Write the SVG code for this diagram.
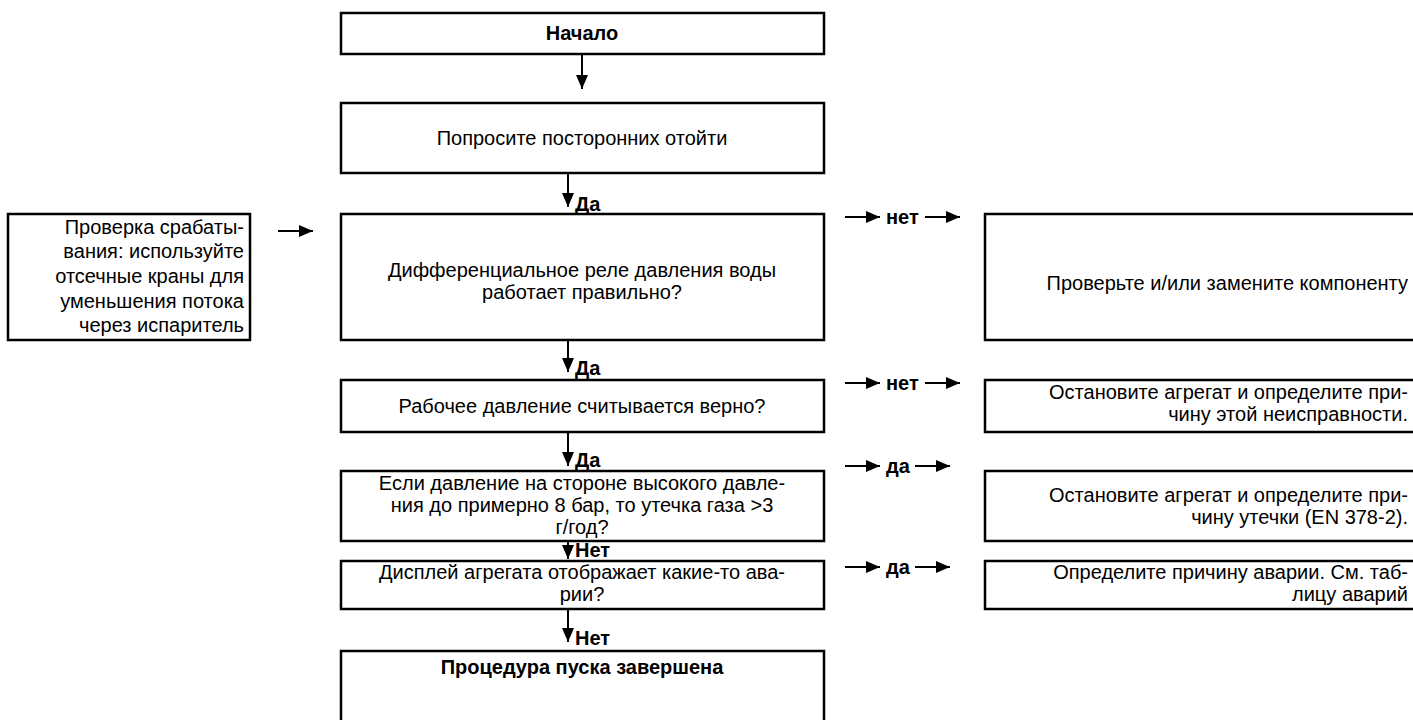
<svg xmlns="http://www.w3.org/2000/svg" width="1413" height="720" viewBox="0 0 1413 720">
<style>
.box{fill:#fff;stroke:#000;stroke-width:2.5}
.t{font-family:"Liberation Sans",Arial,sans-serif;font-size:20px;fill:#000}
.b{font-weight:bold}
.c{text-anchor:middle}
.r{text-anchor:end}
.ln{stroke:#000;stroke-width:2;fill:none}
</style>
<defs>
<marker id="ah" viewBox="0 0 14 12" refX="14" refY="6" markerWidth="14" markerHeight="12" markerUnits="userSpaceOnUse" orient="auto">
<path d="M0,0 L14,6 L0,12 z" fill="#000"/>
</marker>
</defs>
<rect width="1413" height="720" fill="#fff"/>

<g id="start">
<rect class="box" x="341" y="13" width="483" height="41"/>
<text class="t b c" x="582" y="40">Начало</text>
</g>
<g id="ask">
<rect class="box" x="341" y="103" width="483" height="70"/>
<text class="t c" x="582" y="145">Попросите посторонних отойти</text>
</g>
<g id="check">
<rect class="box" x="8" y="214" width="242" height="126"/>
<text class="t r" x="244" y="234">Проверка срабаты-</text>
<text class="t r" x="244" y="258">вания: используйте</text>
<text class="t r" x="244" y="283">отсечные краны для</text>
<text class="t r" x="244" y="308">уменьшения потока</text>
<text class="t r" x="244" y="332">через испаритель</text>
</g>
<g id="relay">
<rect class="box" x="341" y="214" width="483" height="126"/>
<text class="t c" x="582" y="277">Дифференциальное реле давления воды</text>
<text class="t c" x="582" y="299">работает правильно?</text>
</g>
<g id="replace">
<rect class="box" x="985" y="214" width="440" height="126"/>
<text class="t r" x="1408" y="290">Проверьте и/или замените компоненту</text>
</g>
<g id="pressure">
<rect class="box" x="341" y="380" width="483" height="52"/>
<text class="t c" x="582" y="413">Рабочее давление считывается верно?</text>
</g>
<g id="stop1">
<rect class="box" x="985" y="380" width="440" height="52"/>
<text class="t r" x="1408" y="399">Остановите агрегат и определите при-</text>
<text class="t r" x="1408" y="421">чину этой неисправности.</text>
</g>
<g id="leak">
<rect class="box" x="341" y="471" width="483" height="70"/>
<text class="t c" x="582" y="490">Если давление на стороне высокого давле-</text>
<text class="t c" x="582" y="512">ния до примерно 8 бар, то утечка газа &gt;3</text>
<text class="t c" x="582" y="534">г/год?</text>
</g>
<g id="stop2">
<rect class="box" x="985" y="471" width="440" height="70"/>
<text class="t r" x="1408" y="502">Остановите агрегат и определите при-</text>
<text class="t r" x="1408" y="524">чину утечки (EN 378-2).</text>
</g>
<g id="display">
<rect class="box" x="341" y="561" width="483" height="48"/>
<text class="t c" x="582" y="579">Дисплей агрегата отображает какие-то ава-</text>
<text class="t c" x="582" y="601">рии?</text>
</g>
<g id="alarm">
<rect class="box" x="985" y="561" width="440" height="48"/>
<text class="t r" x="1408" y="579">Определите причину аварии. См. таб-</text>
<text class="t r" x="1408" y="601">лицу аварий</text>
</g>
<g id="done">
<rect class="box" x="341" y="651" width="483" height="90"/>
<text class="t b c" x="582" y="674">Процедура пуска завершена</text>
</g>

<g id="connectors">
<line class="ln" x1="582" y1="55" x2="582" y2="89" marker-end="url(#ah)"/>
<line class="ln" x1="568" y1="174" x2="568" y2="207" marker-end="url(#ah)"/>
<text class="t b" x="575" y="211">Да</text>
<line class="ln" x1="278" y1="231" x2="313" y2="231" marker-end="url(#ah)"/>
<line class="ln" x1="845" y1="217" x2="880" y2="217" marker-end="url(#ah)"/>
<text class="t b" x="886" y="224">нет</text>
<line class="ln" x1="925" y1="217" x2="960" y2="217" marker-end="url(#ah)"/>
<line class="ln" x1="568" y1="341" x2="568" y2="372" marker-end="url(#ah)"/>
<text class="t b" x="575" y="375">Да</text>
<line class="ln" x1="845" y1="383" x2="880" y2="383" marker-end="url(#ah)"/>
<text class="t b" x="886" y="390">нет</text>
<line class="ln" x1="925" y1="383" x2="960" y2="383" marker-end="url(#ah)"/>
<line class="ln" x1="568" y1="433" x2="568" y2="466" marker-end="url(#ah)"/>
<text class="t b" x="575" y="467">Да</text>
<line class="ln" x1="845" y1="466" x2="880" y2="466" marker-end="url(#ah)"/>
<text class="t b" x="886" y="473">да</text>
<line class="ln" x1="915" y1="466" x2="950" y2="466" marker-end="url(#ah)"/>
<line class="ln" x1="568" y1="542" x2="568" y2="559" marker-end="url(#ah)"/>
<text class="t b" x="575" y="557">Нет</text>
<line class="ln" x1="845" y1="567" x2="880" y2="567" marker-end="url(#ah)"/>
<text class="t b" x="886" y="574">да</text>
<line class="ln" x1="915" y1="567" x2="950" y2="567" marker-end="url(#ah)"/>
<line class="ln" x1="568" y1="610" x2="568" y2="642" marker-end="url(#ah)"/>
<text class="t b" x="575" y="645">Нет</text>
</g>
</svg>
